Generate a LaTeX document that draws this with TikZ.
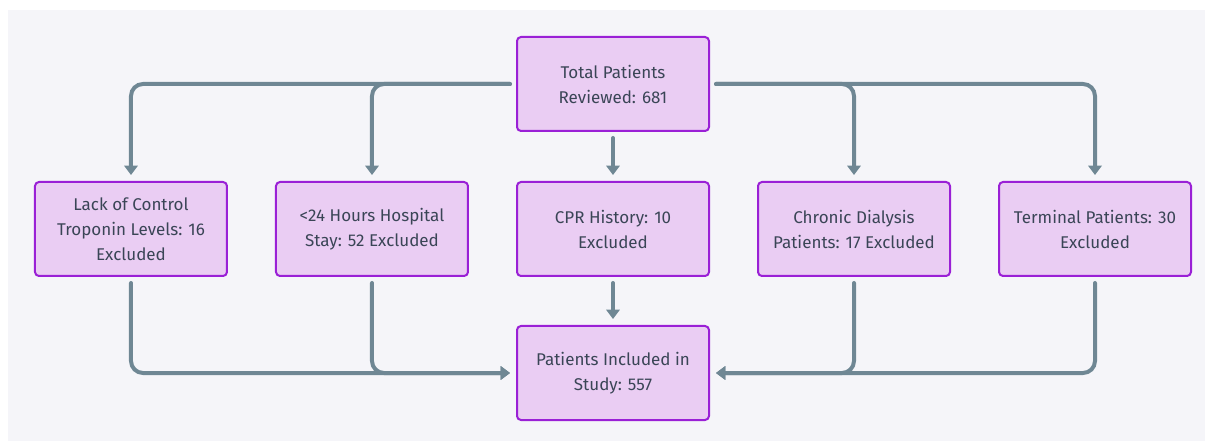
\documentclass[tikz,border=0pt]{standalone}
\usepackage{fontspec}
\setmainfont{Fira Sans}
\usepackage{tikz}
\usetikzlibrary{arrows.meta,positioning}
\definecolor{boxfill}{HTML}{EACDF3}
\definecolor{boxline}{HTML}{9A20D6}
\definecolor{linkcol}{HTML}{6F8794}
\definecolor{txtcol}{HTML}{3A4556}
\definecolor{bgcol}{HTML}{F5F5F9}

\begin{document}
\begin{tikzpicture}[>={Triangle[width=10pt,length=7pt]},node distance=36.75pt and 35.25pt]
  \tikzstyle{stage}=[draw=boxline,fill=boxfill,text=txtcol,line width=1.5pt,rounded corners=3pt,
                     minimum width=144pt,minimum height=70.5pt,align=center,
                     font=\fontsize{12.75}{18.75}\selectfont]
  \tikzstyle{link}=[->,draw=linkcol,line width=3pt,line cap=round,rounded corners=9pt,
                    shorten >=4.5pt,shorten <=4.5pt]

  % canvas
  \useasboundingbox[fill=white] (-459.75pt,63pt) rectangle (444pt,-267.75pt);
  \fill[bgcol] (-453.75pt,55.5pt) rectangle (444pt,-267.75pt);

  \node[stage] (tot)                    {Total Patients\\Reviewed: 681};
  \node[stage] (cpr)  [below=of tot]    {CPR History: 10\\Excluded};
  \node[stage] (stay) [left=of cpr]     {<24 Hours Hospital\\Stay: 52 Excluded};
  \node[stage] (ctrl) [left=of stay]    {Lack of Control\\Troponin Levels: 16\\Excluded};
  \node[stage] (dial) [right=of cpr]    {Chronic Dialysis\\Patients: 17 Excluded};
  \node[stage] (term) [right=of dial]   {Terminal Patients: 30\\Excluded};
  \node[stage] (incl) [below=36pt of cpr] {Patients Included in\\Study: 557};

  \draw[link] (tot.west) -| (ctrl.north);
  \draw[link] (tot.west) -| (stay.north);
  \draw[link] (tot) -- (cpr);
  \draw[link] (tot.east) -| (dial.north);
  \draw[link] (tot.east) -| (term.north);
  \draw[link] (ctrl.south) |- (incl.west);
  \draw[link] (stay.south) |- (incl.west);
  \draw[link] (cpr) -- (incl);
  \draw[link] (dial.south) |- (incl.east);
  \draw[link] (term.south) |- (incl.east);
\end{tikzpicture}
\end{document}
